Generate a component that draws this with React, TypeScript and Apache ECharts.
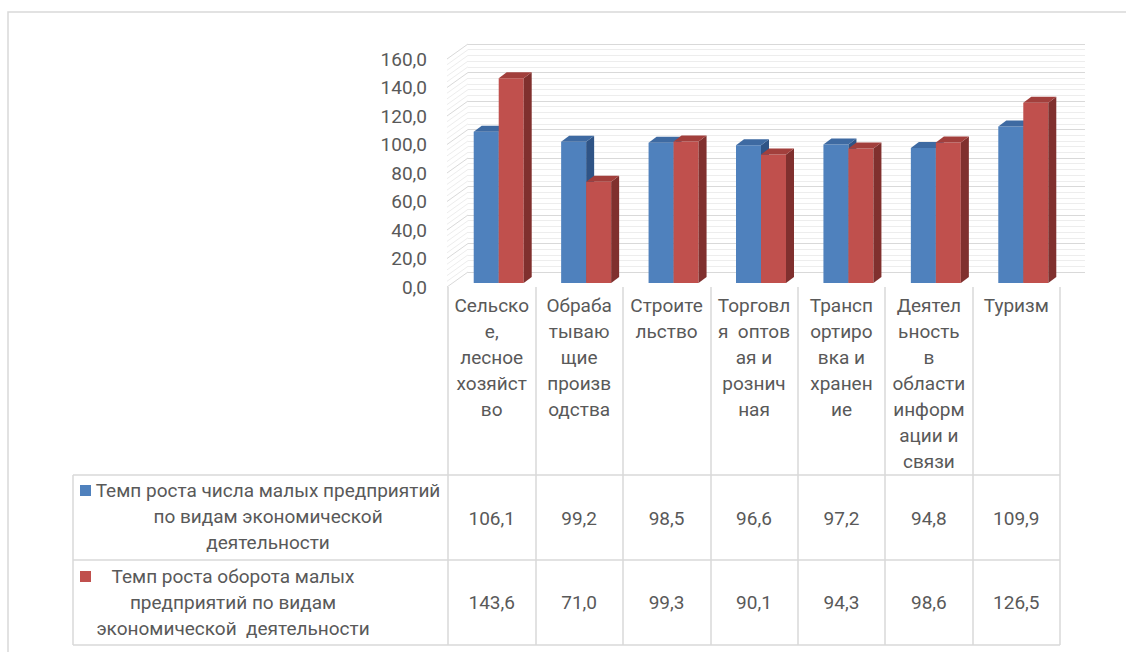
import React, { useEffect, useRef } from "react";
import * as echarts from "echarts";

const categories = [
  "Сельско\nе,\nлесное\nхозяйст\nво",
  "Обраба\nтываю\nщие\nпроизв\nодства",
  "Строите\nльство",
  "Торговл\nя  оптов\nая и\nрознич\nная",
  "Трансп\nортиро\nвка и\nхранен\nие",
  "Деятел\nьность\nв\nобласти\nинформ\nации и\nсвязи",
  "Туризм",
];
const seriesNames = [
  "Темп роста числа малых предприятий\nпо видам экономической\nдеятельности",
  "Темп роста оборота малых\nпредприятий по видам\nэкономической  деятельности",
];
const enterprisesGrowth = [106.1, 99.2, 98.5, 96.6, 97.2, 94.8, 109.9];
const turnoverGrowth = [143.6, 71.0, 99.3, 90.1, 94.3, 98.6, 126.5];
const yMin = 0;
const yMax = 160;
const yInterval = 20;

const FONT = "Roboto, 'Noto Sans', sans-serif";
const TEXT = "#595959";
const LINE = "#d9d9d9";
const FS = 19;

const BAR_W = 25;
const DX = 8;
const DY = 6;

const fmt = (v: number) => v.toFixed(1).replace(".", ",");

const palette = [
  { front: "#4f81bd", side: "#2f5486", top: "#3e6aa2" },
  { front: "#c0504d", side: "#80302e", top: "#a23f3c" },
];

function barRender(sideIdx: number) {
  return (params: any, api: any) => {
    const i = api.value(0);
    const v = api.value(1);
    const base = api.coord([i, 0]);
    const cx = base[0];
    const y0 = base[1];
    const y1 = api.coord([i, v])[1];
    const x0 = sideIdx === 0 ? cx - BAR_W : cx;
    const x1 = x0 + BAR_W;
    const c = palette[sideIdx];
    return {
      type: "group",
      children: [
        { type: "rect", shape: { x: x0, y: y1, width: BAR_W, height: y0 - y1 }, style: { fill: c.front } },
        {
          type: "polygon",
          shape: { points: [[x1, y1], [x1 + DX, y1 - DY], [x1 + DX, y0 - DY], [x1, y0]] },
          style: { fill: c.side },
        },
        {
          type: "polygon",
          shape: { points: [[x0, y1], [x0 + DX, y1 - DY], [x1 + DX, y1 - DY], [x1, y1]] },
          style: { fill: c.top },
        },
      ],
    };
  };
}

function sideWallRender(params: any, api: any) {
  const children: any[] = [];
  const step = yInterval / 5;
  for (let v = yMin; v <= yMax + 1e-6; v += step) {
    const p = api.coord([0, v]);
    const major = Math.abs(v / yInterval - Math.round(v / yInterval)) < 1e-6;
    children.push({
      type: "line",
      shape: { x1: p[0] - 21, y1: p[1] + 15, x2: p[0], y2: p[1] },
      style: { stroke: major ? LINE : "#ededed", lineWidth: 1 },
    });
  }
  return { type: "group", children };
}

function tableRender(rowY: number) {
  return (params: any, api: any) => {
    const x = api.coord([api.value(0), 0])[0];
    return {
      type: "text",
      x,
      y: rowY,
      style: {
        text: fmt(api.value(1)),
        fill: TEXT,
        font: `${FS}px ${FONT}`,
        align: "center",
        verticalAlign: "middle",
      },
    };
  };
}

export default function App() {
  const ref = useRef<HTMLDivElement>(null);
  useEffect(() => {
    document.body.style.margin = "0";
    const chart = echarts.init(ref.current!, null, { renderer: "svg" });
    const idx = categories.map((_, i) => i);
    chart.setOption({
      animation: false,
      backgroundColor: "#ffffff",
      grid: [
        // back wall
        { left: 468, right: 41, top: 44, bottom: 380 },
        // front plane (labels, table)
        { left: 448, right: 66, top: 59, bottom: 365 },
        // bar plane
        { left: 455, right: 59, top: 55, bottom: 369 },
      ],
      xAxis: [
        { gridIndex: 0, type: "value", min: 0, max: 1, show: false },
        {
          gridIndex: 1,
          type: "category",
          data: categories,
          axisLine: { show: false },
          axisTick: { show: true, interval: 0, length: 358, lineStyle: { color: LINE, width: 1.5 } },
          axisLabel: {
            interval: 0,
            margin: 5,
            color: TEXT,
            fontFamily: FONT,
            fontSize: FS,
            lineHeight: 26,
            align: "center",
            verticalAlign: "top",
          },
        },
        { gridIndex: 2, type: "category", data: categories, show: false },
      ],
      yAxis: [
        {
          gridIndex: 0,
          type: "value",
          min: yMin,
          max: yMax,
          interval: yInterval,
          axisLabel: { show: false },
          axisLine: { show: false },
          axisTick: { show: false },
          splitLine: { show: true, lineStyle: { color: LINE, width: 1 } },
          minorTick: { show: false, splitNumber: 5 },
          minorSplitLine: { show: true, lineStyle: { color: "#ededed", width: 1 } },
        },
        {
          gridIndex: 1,
          type: "value",
          min: yMin,
          max: yMax,
          interval: yInterval,
          axisLine: { show: false },
          axisTick: { show: false },
          splitLine: { show: false },
          axisLabel: { margin: 21, color: TEXT, fontFamily: FONT, fontSize: FS, formatter: (v: number) => fmt(v) },
        },
        { gridIndex: 2, type: "value", min: yMin, max: yMax, interval: yInterval, show: false },
      ],
      series: [
        {
          type: "custom",
          xAxisIndex: 0,
          yAxisIndex: 0,
          data: [[0, 0]],
          renderItem: sideWallRender,
          z: 1,
          silent: true,
        },
        {
          name: seriesNames[0],
          type: "custom",
          xAxisIndex: 2,
          yAxisIndex: 2,
          data: enterprisesGrowth.map((v, i) => [idx[i], v]),
          renderItem: barRender(0),
          z: 3,
        },
        {
          name: seriesNames[1],
          type: "custom",
          xAxisIndex: 2,
          yAxisIndex: 2,
          data: turnoverGrowth.map((v, i) => [idx[i], v]),
          renderItem: barRender(1),
          z: 4,
        },
        {
          type: "custom",
          xAxisIndex: 1,
          yAxisIndex: 1,
          data: enterprisesGrowth.map((v, i) => [idx[i], v]),
          renderItem: tableRender(518),
          z: 5,
        },
        {
          type: "custom",
          xAxisIndex: 1,
          yAxisIndex: 1,
          data: turnoverGrowth.map((v, i) => [idx[i], v]),
          renderItem: tableRender(602),
          z: 5,
        },
      ],
      graphic: [
        { type: "rect", shape: { x: 8, y: 12, width: 1200, height: 700 }, style: { fill: "none", stroke: LINE, lineWidth: 1.5 }, z: 0 },
        { type: "line", shape: { x1: 73, y1: 475, x2: 1060, y2: 475 }, style: { stroke: LINE, lineWidth: 1.5 } },
        { type: "line", shape: { x1: 73, y1: 560, x2: 1060, y2: 560 }, style: { stroke: LINE, lineWidth: 1.5 } },
        { type: "line", shape: { x1: 73, y1: 645, x2: 1060, y2: 645 }, style: { stroke: LINE, lineWidth: 1.5 } },
        { type: "line", shape: { x1: 73, y1: 475, x2: 73, y2: 645 }, style: { stroke: LINE, lineWidth: 1.5 } },
        { type: "rect", shape: { x: 80, y: 485, width: 11, height: 11 }, style: { fill: palette[0].front } },
        { type: "rect", shape: { x: 80, y: 571, width: 11, height: 11 }, style: { fill: palette[1].front } },
        {
          type: "text",
          x: 268,
          y: 516,
          style: { text: seriesNames[0], fill: TEXT, font: `${FS}px ${FONT}`, align: "center", verticalAlign: "middle", lineHeight: 26 },
        },
        {
          type: "text",
          x: 233,
          y: 602,
          style: { text: seriesNames[1], fill: TEXT, font: `${FS}px ${FONT}`, align: "center", verticalAlign: "middle", lineHeight: 26 },
        },
      ],
    });
    return () => chart.dispose();
  }, []);
  return <div ref={ref} style={{ width: 1126, height: 652 }} />;
}
